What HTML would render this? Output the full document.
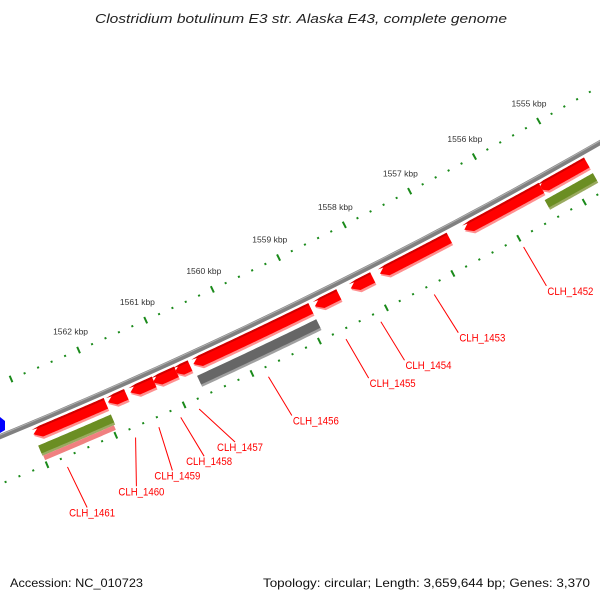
<!DOCTYPE html>
<html><head><meta charset="utf-8"><style>
html,body{margin:0;padding:0;background:#fff}
svg{display:block;font-family:"Liberation Sans",sans-serif}
</style></head><body>
<svg id="map" width="600" height="600" viewBox="0 0 600 600" xmlns="http://www.w3.org/2000/svg">
<text x="95" y="23" textLength="412" lengthAdjust="spacingAndGlyphs" font-size="13" font-style="italic" fill="#222">Clostridium botulinum E3 str. Alaska E43, complete genome</text>
<text x="10" y="587" textLength="133" lengthAdjust="spacingAndGlyphs" font-size="12" fill="#111">Accession: NC_010723</text>
<text x="263" y="587" textLength="327" lengthAdjust="spacingAndGlyphs" font-size="12" fill="#111">Topology: circular; Length: 3,659,644 bp; Genes: 3,370</text>
<g id="layer"></g>
</svg>
<script>
// data (kbp)
const tickKbp = [1555,1556,1557,1558,1559,1560,1561,1562];
const redStart = [1554.71,1555.41,1556.82,1557.98,1558.49,1558.91,1560.71,1560.91,1561.24,1561.65,1561.95];
const redEnd   = [1555.45,1556.59,1557.87,1558.31,1558.85,1560.66,1560.94,1561.26,1561.59,1561.92,1563.01];
const grayStart = [1558.91];
const grayEnd   = [1560.68];
const greenStart = [1554.71,1561.95];
const greenEnd   = [1555.45,1563.01];
const pinkStart = [1561.97];
const pinkEnd   = [1563.0];
const labelNames = ['CLH_1452','CLH_1453','CLH_1454','CLH_1455','CLH_1456','CLH_1457','CLH_1458','CLH_1459','CLH_1460','CLH_1461'];
const labelFrom  = [1556.0,1557.35,1558.15,1558.67,1559.82,1560.84,1561.11,1561.43,1561.77,1562.76];
const labelTo    = [1555.98,1557.30,1558.10,1558.63,1559.76,1560.59,1561.04,1561.50,1562.02,1562.73];

const CX=-1975.6, CY=-4354, NS="http://www.w3.org/2000/svg";
const layer=document.getElementById('layer');
function ang(k){return (60.67+0.82*(k-1555))*Math.PI/180;}
function pt(r,k){const a=ang(k);return [CX+r*Math.cos(a),CY+r*Math.sin(a)];}
function mk(tag,attrs){const e=document.createElementNS(NS,tag);for(const k in attrs)e.setAttribute(k,attrs[k]);layer.appendChild(e);return e;}
function arcPts(r,k1,k2){const n=40,out=[];for(let i=0;i<=n;i++){out.push(pt(r,k1+(k2-k1)*i/n));}return out;}
function ps(a){return a.map(p=>p[0].toFixed(2)+','+p[1].toFixed(2)).join(' ');}

const bb=mk('polyline',{points:ps(arcPts(5182,1553.5,1564)),fill:'none',stroke:'#808080','stroke-width':5});


const bb2=mk('polyline',{points:ps(arcPts(5180.5,1553.5,1564)),fill:'none',stroke:'#b0b0b0','stroke-width':1});



function ring(r,name){
  for(let i=0;i<=55;i++){
    const k=1553.6+i*0.2;const kr=Math.round(k*5)/5;
    const major=Math.abs(kr-Math.round(kr))<1e-6;
    if(major){
      const p1=pt(r-3.5,kr),p2=pt(r+3.5,kr);
      const t=mk('line',{x1:p1[0],y1:p1[1],x2:p2[0],y2:p2[1],stroke:'#1a8a1a','stroke-width':2});
      
      
    }else{
      const p1=pt(r-1,kr),p2=pt(r+1,kr);
      const t=mk('line',{x1:p1[0],y1:p1[1],x2:p2[0],y2:p2[1],stroke:'#1a8a1a','stroke-width':2});
      
      
    }
  }
}
ring(5133,'inner');
ring(5226,'outer');
tickKbp.forEach(k=>{
  const p=pt(5113,k);
  const t=mk('text',{x:p[0],y:p[1]+3,'text-anchor':'middle','font-size':8.5,fill:'#333'});
  t.textContent=k+' kbp';
  
  
});

function band(r1,r2,k1,k2,fill,arrow){
  let outer=arcPts(r2,k1,k2), inner=arcPts(r1,k2,k1);
  if(arrow){
    const d=8/5195*180/Math.PI/0.82;
    const kk=Math.max(k1,k2-d);
    outer=arcPts(r2,k1,kk); inner=arcPts(r1,kk,k1);
    const tip=pt((r1+r2)/2,k2);
    return mk('polygon',{points:ps(outer.concat([tip]).concat(inner)),fill:fill});
  }
  return mk('polygon',{points:ps(outer.concat(inner)),fill:fill});
}
redStart.forEach((s,i)=>{
  const g1=band(5188,5201,s,redEnd[i],'#ff9090',true);
  
  
  const g=band(5187,5198.5,s,redEnd[i],'#ff0000',true);
  
  
  const g2=band(5187,5189,s,redEnd[i],'#d00000',true);
  
  
});
grayStart.forEach((s,i)=>{
  const a=band(5205,5217,s,grayEnd[i],'#a0a0a0',false);
  
  
  const g=band(5205,5214.5,s,grayEnd[i],'#666666',false);
  
  
});
greenStart.forEach((s,i)=>{
  const a=band(5205,5216,s,greenEnd[i],'#9aaa60',false);
  
  
  const g=band(5205,5213.5,s,greenEnd[i],'#6b8e23',false);
  
  
});
pinkStart.forEach((s,i)=>{
  const g=band(5216,5221,s,pinkEnd[i],'#f08080',false);
  
  
});
const blue=mk('polygon',{points:'0,417 5,421 5,430 0,433',fill:'#0000ff'});



labelNames.forEach((n,i)=>{
  const p1=pt(5236,labelFrom[i]),p2=pt(5281,labelTo[i]);
  const l=mk('line',{x1:p1[0],y1:p1[1],x2:p2[0],y2:p2[1],stroke:'#ff0000','stroke-width':1});
  
  
  const centered=i>=5;
  const t=mk('text',{x:p2[0]+(centered?-18:1),y:p2[1]+9,'font-size':11,fill:'#ff0000',textLength:46,lengthAdjust:'spacingAndGlyphs'});
  t.textContent=n;
  
  
});
</script>
</body></html>
